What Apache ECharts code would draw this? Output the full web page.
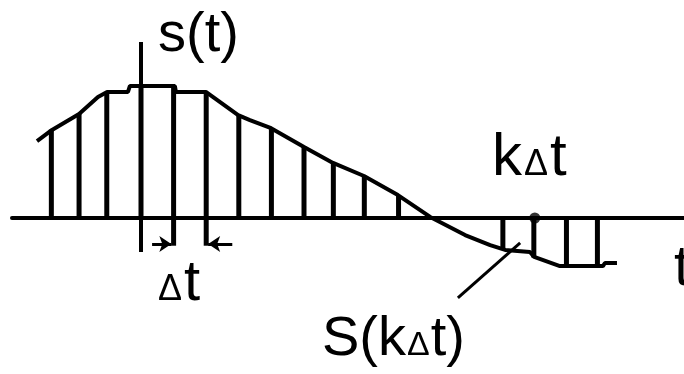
<!DOCTYPE html>
<html>
<head>
<meta charset="utf-8">
<script src="https://cdn.jsdelivr.net/npm/echarts@6/dist/echarts.min.js"></script>
<style>
  html, body { margin: 0; padding: 0; background: #fff; }
  #chart { width: 684px; height: 374px; }
</style>
</head>
<body>
<div id="chart"></div>
<script>
// sample instants (in units of Δt) and sampled values s(kΔt)
const stemT = [-2.75, -1.9, -1.05, 0, 1, 2, 3, 4, 5, 5.9, 6.85, 7.9, 11.1, 12.05, 13.05, 14]
const stemS = [0.67, 0.79, 0.955, 1.0, 1.0, 0.955, 0.78, 0.68, 0.54, 0.42, 0.32, 0.17, -0.24, -0.3, -0.37, -0.37]

// envelope drawn over the stems
const curveT = [-3.19, -2.73, -1.9, -1.32, -1.04, -0.4, -0.34, 1.04, 1.07, 1.99, 2.98, 3.34, 3.99, 5.0, 5.89, 6.84, 7.88, 8.87, 9.94, 10.71, 11.17, 11.93, 12.06, 12.85, 14.17, 14.23, 14.6]
const curveS = [0.583, 0.667, 0.788, 0.917, 0.955, 0.955, 1.0, 1.0, 0.955, 0.955, 0.78, 0.742, 0.68, 0.538, 0.417, 0.318, 0.174, 0.008, -0.129, -0.205, -0.242, -0.258, -0.295, -0.364, -0.364, -0.341, -0.341]

// s axis (vertical line through t = 0)
const sAxisT = [0, 0]
const sAxisS = [1.333, -0.258]

// Δt marker: extension lines and the two arrows
const dtMarkT = [1, 2]
const dtMarkS = -0.21
const arrowS = -0.197
const arrowFrom = [0.34, 2.8]
const arrowTo = [0.93, 2.06]

// sample point k and the pointer to S(kΔt)
const kT = 12.08
const pointerT = [9.72, 11.63]
const pointerS = [-0.606, -0.189]

let myChart = echarts.init(document.getElementById('chart'))

const black = '#000'
const font = '"Liberation Sans", Arial, sans-serif'

myChart.setOption({
  animation: false,
  backgroundColor: '#fff',
  grid: { left: 12, right: 0, top: 0, bottom: 0 },
  xAxis: {
    type: 'value',
    min: -3.957,
    max: 16.656,
    axisLine: { show: true, onZero: true, lineStyle: { color: black, width: 4 } },
    axisTick: { show: false },
    axisLabel: { show: false },
    splitLine: { show: false }
  },
  yAxis: {
    type: 'value',
    min: -1.1818,
    max: 1.6515,
    axisLine: { show: false },
    axisTick: { show: false },
    axisLabel: { show: false },
    splitLine: { show: false }
  },
  series: [
    {
      // stems
      type: 'bar',
      barWidth: 5,
      itemStyle: { color: black },
      data: stemT.map((t, i) => [t, stemS[i]])
    },
    {
      // envelope
      type: 'line',
      symbol: 'none',
      lineStyle: { color: black, width: 4 },
      data: curveT.map((t, i) => [t, curveS[i]])
    },
    {
      // s axis
      type: 'line',
      symbol: 'none',
      lineStyle: { color: black, width: 4 },
      data: sAxisT.map((t, i) => [t, sAxisS[i]])
    },
    {
      // Δt extension lines below the axis
      type: 'bar',
      barWidth: 5,
      barGap: '-100%',
      itemStyle: { color: black },
      data: dtMarkT.map(t => [t, dtMarkS])
    },
    {
      // Δt arrows
      type: 'lines',
      coordinateSystem: 'cartesian2d',
      symbol: ['none', 'arrow'],
      symbolSize: 12,
      lineStyle: { color: black, width: 3, opacity: 1 },
      data: arrowFrom.map((t, i) => ({ coords: [[t, arrowS], [arrowTo[i], arrowS]] }))
    },
    {
      // pointer to S(kΔt)
      type: 'line',
      symbol: 'none',
      lineStyle: { color: black, width: 3 },
      data: pointerT.map((t, i) => [t, pointerS[i]])
    },
    {
      // sample point kΔt on the axis
      type: 'scatter',
      symbolSize: 11,
      itemStyle: { color: black },
      data: [[kT, 0]]
    }
  ],
  graphic: [
    {
      type: 'text', left: 158, top: 8,
      style: { text: 's(t)', font: '56px ' + font, fill: black }
    },
    {
      type: 'text', left: 492, top: 128,
      style: {
        text: '{a|k}{b|\u0394}{a|t}',
        fill: black,
        rich: {
          a: { fontSize: 60, fontFamily: font, verticalAlign: 'bottom' },
          b: { fontSize: 36, fontFamily: font, verticalAlign: 'bottom', padding: [0, 2, 5, 2] }
        }
      }
    },
    {
      type: 'text', left: 158, top: 255,
      style: {
        text: '{b|\u0394}{a|t}',
        fill: black,
        rich: {
          a: { fontSize: 58, fontFamily: font, verticalAlign: 'bottom' },
          b: { fontSize: 36, fontFamily: font, verticalAlign: 'bottom', padding: [0, 2, 5, 0] }
        }
      }
    },
    {
      type: 'text', left: 322, top: 312,
      style: {
        text: '{a|S(k}{b|\u0394}{a|t)}',
        fill: black,
        rich: {
          a: { fontSize: 56, fontFamily: font, verticalAlign: 'bottom' },
          b: { fontSize: 34, fontFamily: font, verticalAlign: 'bottom', padding: [0, 1, 5, 1] }
        }
      }
    },
    {
      type: 'text', left: 674, top: 240,
      style: { text: 't', font: '58px ' + font, fill: black }
    }
  ]
})
</script>
</body>
</html>
